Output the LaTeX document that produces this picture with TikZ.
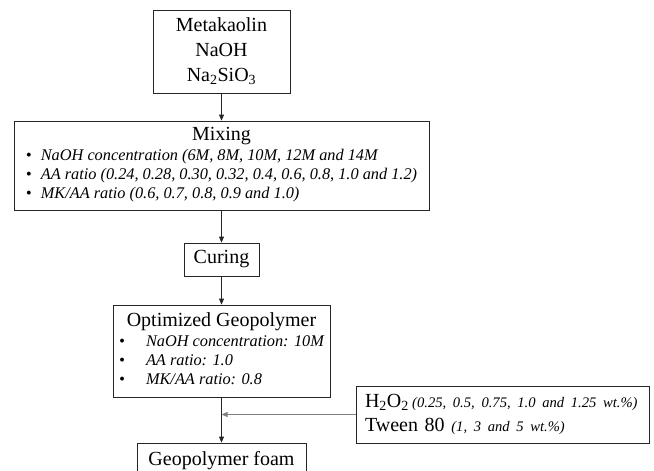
\documentclass[tikz,border=0pt]{standalone}
\usepackage{fontspec}
\setmainfont{Liberation Serif}
\usepackage{tikz}
\usetikzlibrary{arrows.meta}
\newcommand{\titlesize}{\fontsize{20}{25}\selectfont}
\newcommand{\notesize}{\fontsize{16.3}{19}\selectfont\itshape}
\newcommand{\smallnote}{\fontsize{14.6}{24}\selectfont\itshape}

\tikzset{
  stepbox/.style={draw=black!85, line width=0.8pt, rectangle, inner sep=0pt, align=center, font=\titlesize},
  flow/.style={-{Triangle[length=6pt,width=5pt]}, line width=0.8pt, draw=black!85},
}

\begin{document}
\begin{tikzpicture}[x=1pt, y=-1pt]
    \useasboundingbox (0,0) rectangle (654,471);
    \node[stepbox, minimum width=137, minimum height=83] (raw) at (221.5,51.5) {Metakaolin\\NaOH\\Na\textsubscript{2}SiO\textsubscript{3}};
    \node[stepbox, minimum width=415, minimum height=89] (mix) at (221.5,165.5) {\notesize\begin{tabular}{@{}p{15pt}@{}l@{}}
        \multicolumn{2}{c}{\titlesize\upshape Mixing}\\[1pt]
        \textbullet & NaOH concentration (6M, 8M, 10M, 12M and 14M\\
        \textbullet & AA ratio (0.24, 0.28, 0.30, 0.32, 0.4, 0.6, 0.8, 1.0 and 1.2)\\
        \textbullet & MK/AA ratio (0.6, 0.7, 0.8, 0.9 and 1.0)
    \end{tabular}};
    \node[stepbox, minimum width=75, minimum height=33] (cure) at (221.5,259.5) {Curing};
    \node[stepbox, minimum width=217, minimum height=92] (opt) at (221.5,351) {\notesize\begin{tabular}{@{}p{27pt}@{}l@{}}
        \multicolumn{2}{c}{\titlesize\upshape Optimized Geopolymer}\\[1pt]
        \textbullet & NaOH concentration: 10M\\
        \textbullet & AA ratio: 1.0\\
        \textbullet & MK/AA ratio: 0.8
    \end{tabular}};
    \node[stepbox, align=left, text width=275, minimum width=293, minimum height=57, font=\fontsize{20}{24}\selectfont] (add) at (502.5,414.5)
        {\mbox{H\textsubscript{2}O\textsubscript{2}\,{\smallnote (0.25, 0.5, 0.75, 1.0 and 1.25 wt.\%)}}\\\mbox{Tween 80 {\smallnote (1, 3 and 5 wt.\%)}}};
    \node[stepbox, minimum width=169, minimum height=36] (foam) at (221.5,461) {Geopolymer foam};
    \coordinate (j) at (221.5,414.5);
    % main line
    \draw[flow] (raw) -- (mix);
    \draw[flow] (mix) -- (cure);
    \draw[flow] (cure) -- (opt);
    \draw[flow] (opt) -- (foam);
    % additives join the line
    \draw[flow, draw=black!50] (add.west) -- (j);
\end{tikzpicture}
\end{document}
